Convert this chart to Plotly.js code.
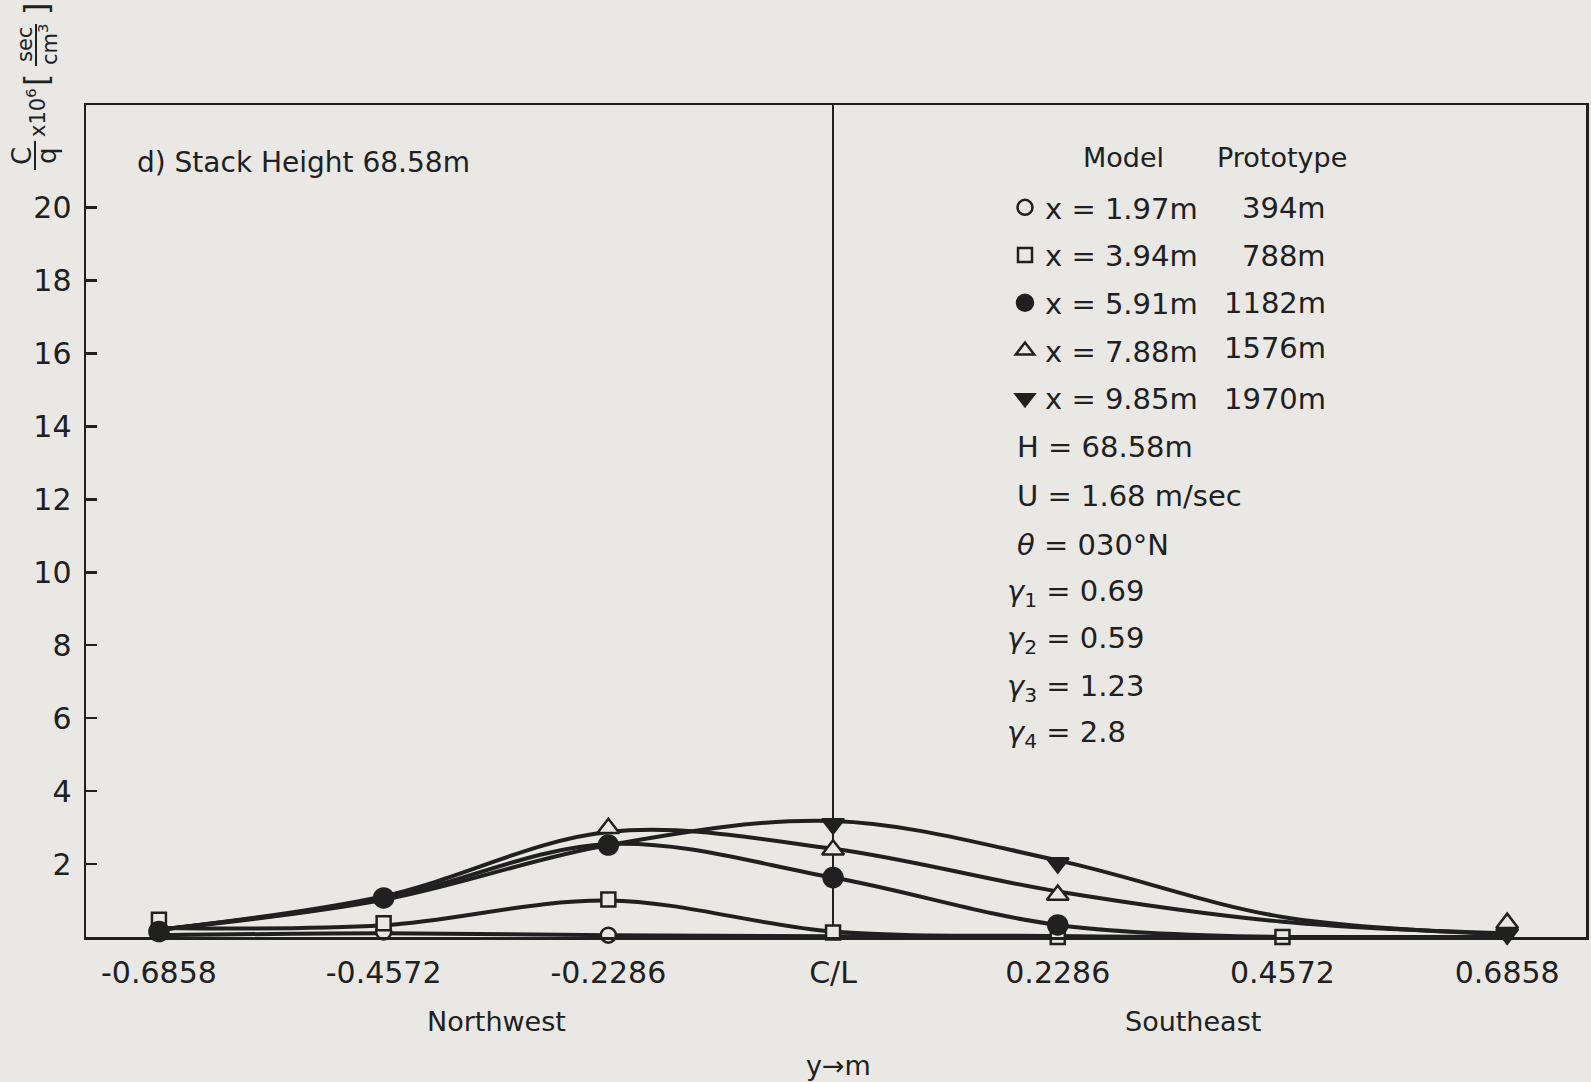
<!DOCTYPE html>
<html>
<head>
<meta charset="utf-8">
<script src="https://cdn.plot.ly/plotly-3.0.1.min.js"></script>
<style>
  html, body { margin: 0; padding: 0; background: #e9e8e5; }
  #chart { width: 1591px; height: 1082px; }
</style>
</head>
<body>
<div id="chart"></div>
<script>
// Lateral sampling positions (m) across the plume, NW negative, SE positive
const yPositions = [-0.6858, -0.4572, -0.2286, 0, 0.2286, 0.4572, 0.6858];
const tickLabels = ['-0.6858', '-0.4572', '-0.2286', 'C/L', '0.2286', '0.4572', '0.6858'];

// Measured C/q x 10^6 at each position (null = point not plotted)
const pts197 = [null, 0.14, 0.05, null, null, null, null];
const pts394 = [0.47, 0.38, 1.03, 0.12, 0.0, 0.0, null];
const pts591 = [0.15, 1.07, 2.52, 1.63, 0.33, null, null];
const pts788 = [null, null, 2.98, 2.39, 1.15, null, 0.38];
const pts985 = [null, null, null, 3.10, 2.03, null, 0.08];

// Faired curves drawn through the data
const curve197 = [0.05, 0.10, 0.05, 0.02, 0.0, 0.0, 0.0];
const curve394 = [0.25, 0.32, 1.0, 0.15, 0.03, 0.0, null];
const curve591 = [0.2, 1.05, 2.55, 1.63, 0.33, 0.0, null];
const curve788 = [0.2, 1.12, 2.88, 2.42, 1.25, 0.42, 0.1];
const curve985 = [0.2, 1.02, 2.52, 3.18, 2.1, 0.55, 0.08];

// Legend / parameter text
const modelLabels = ['x = 1.97m', 'x = 3.94m', 'x = 5.91m', 'x = 7.88m', 'x = 9.85m'];
const protoLabels = ['394m', '788m', '1182m', '1576m', '1970m'];
const paramLabels = [
  'H = 68.58m',
  'U = 1.68 m/sec',
  '<i>θ</i> = 030°N',
  '<i>γ</i><sub>1</sub> = 0.69',
  '<i>γ</i><sub>2</sub> = 0.59',
  '<i>γ</i><sub>3</sub> = 1.23',
  '<i>γ</i><sub>4</sub> = 2.8'
];

const INK = '#202020';
const PAPER = '#e9e8e5';
const FONT = 'DejaVu Sans, Liberation Sans, sans-serif';

// plot-area geometry in pixels, used to place free text in paper units
const M = { l: 86, r: 5, t: 105, b: 145 };
const W = 1591, H = 1082;
const PW = W - M.l - M.r, PH = H - M.t - M.b;
const px = v => (v - M.l) / PW;
const py = v => (H - M.b - v) / PH;

const lineStyle = { color: INK, width: 4, shape: 'spline', smoothing: 1 };

function curveTrace(vals) {
  return { x: yPositions, y: vals, mode: 'lines', line: lineStyle,
           hoverinfo: 'skip', showlegend: false, cliponaxis: false };
}
function markerTrace(vals, name, symbol, size, filled, group) {
  return {
    x: yPositions, y: vals, mode: 'markers', name: name,
    legendgroup: group, cliponaxis: false,
    marker: { symbol: symbol, size: size,
              color: filled ? INK : PAPER,
              line: { color: INK, width: 2.5 } }
  };
}

const data = [
  curveTrace(curve197), curveTrace(curve394), curveTrace(curve591),
  curveTrace(curve788), curveTrace(curve985),
  markerTrace(pts197, modelLabels[0], 'circle', 15, false, 'a'),
  markerTrace(pts394, modelLabels[1], 'square', 14, false, 'b'),
  markerTrace(pts591, modelLabels[2], 'circle', 19, true, 'c'),
  markerTrace(pts788, modelLabels[3], 'triangle-up', 19, false, 'd'),
  markerTrace(pts985, modelLabels[4], 'triangle-down', 19, true, 'e')
];

const rowY = [208, 256, 303, 348, 399];
const paramY = [447, 496, 545, 593, 640, 688, 734];
const paramX = [1015, 1015, 1015, 1005, 1005, 1005, 1005];

const ann = [];
function addText(text, x, y, opts) {
  ann.push(Object.assign({
    text: text, xref: 'paper', yref: 'paper', x: px(x), y: py(y),
    xanchor: 'left', yanchor: 'middle', showarrow: false,
    font: { family: FONT, size: 29, color: INK }
  }, opts || {}));
}

addText('d) Stack Height 68.58m', 135, 162, { font: { family: FONT, size: 28, color: INK } });
addText('Model', 1081, 157, { font: { family: FONT, size: 27, color: INK } });
addText('Prototype', 1215, 157, { font: { family: FONT, size: 27, color: INK } });
protoLabels.forEach((t, i) => addText(t, 1328, rowY[i], { xanchor: 'right' }));
paramLabels.forEach((t, i) => addText(t, paramX[i], paramY[i]));

addText('Northwest', 496, 1021, { xanchor: 'center', font: { family: FONT, size: 27, color: INK } });
addText('Southeast', 1193, 1021, { xanchor: 'center', font: { family: FONT, size: 27, color: INK } });
addText('y→m', 838, 1065, { xanchor: 'center', font: { family: FONT, size: 27, color: INK } });

// vertical axis label: C/q x10^6 [sec/cm^3]
const vBig = { family: FONT, size: 26, color: INK };
const vSmall = { family: FONT, size: 21, color: INK };
const vBracket = { family: FONT, size: 32, color: INK };
addText('C', 22, 156, { xanchor: 'center', textangle: -90, font: vBig });
addText('q', 47, 156, { xanchor: 'center', textangle: -90, font: vBig });
addText('x10<sup>6</sup>', 36, 113, { xanchor: 'center', textangle: -90, font: vSmall });
addText('[', 36, 80, { xanchor: 'center', textangle: -90, font: vBracket });
addText('sec', 25, 45, { xanchor: 'center', textangle: -90, font: vSmall });
addText('cm<sup>3</sup>', 48, 45, { xanchor: 'center', textangle: -90, font: vSmall });
addText(']', 36, 9, { xanchor: 'center', textangle: -90, font: vBracket });

const shapes = [
  { type: 'line', xref: 'paper', yref: 'paper', x0: px(35), x1: px(35), y0: py(141), y1: py(170), line: { color: INK, width: 2 } },
  { type: 'line', xref: 'paper', yref: 'paper', x0: px(36), x1: px(36), y0: py(24), y1: py(66), line: { color: INK, width: 2 } }
];

const layout = {
  width: W, height: H,
  margin: M,
  paper_bgcolor: PAPER, plot_bgcolor: PAPER,
  font: { family: FONT, color: INK },
  showlegend: true,
  legend: {
    x: px(1005), y: py(182), xanchor: 'left', yanchor: 'top',
    bgcolor: 'rgba(0,0,0,0)', borderwidth: 0,
    font: { family: FONT, size: 29, color: INK },
    traceorder: 'grouped', tracegroupgap: 7, itemsizing: 'trace'
  },
  xaxis: {
    range: [-0.760, 0.766], showgrid: false,
    zeroline: true, zerolinecolor: INK, zerolinewidth: 2,
    showline: true, linecolor: INK, linewidth: 2.5, mirror: true,
    tickmode: 'array', tickvals: yPositions, ticktext: tickLabels,
    ticks: '', ticklabelstandoff: 7,
    tickfont: { family: FONT, size: 30, color: INK }
  },
  yaxis: {
    range: [0, 22.81], showgrid: false, zeroline: false,
    showline: true, linecolor: INK, linewidth: 2.5, mirror: true,
    tickmode: 'array', tickvals: [2, 4, 6, 8, 10, 12, 14, 16, 18, 20],
    ticks: 'inside', ticklen: 11, tickwidth: 2.5, tickcolor: INK,
    ticklabelstandoff: 6,
    tickfont: { family: FONT, size: 30, color: INK }
  },
  annotations: ann,
  shapes: shapes
};

Plotly.newPlot('chart', data, layout, { displayModeBar: false, staticPlot: true });
</script>
</body>
</html>
